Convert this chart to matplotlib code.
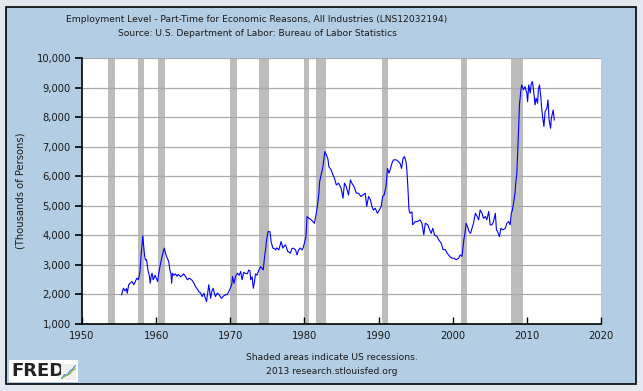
import matplotlib
matplotlib.use("Agg")
import matplotlib.pyplot as plt
from matplotlib.patches import Rectangle
from matplotlib.ticker import FuncFormatter

# monthly-ish readings of LNS12032194, thousands of persons
years = [
    1955.35, 1955.5, 1955.6, 1955.8, 1956.0, 1956.1, 1956.3, 1956.5, 1956.75, 1957.0,
    1957.2, 1957.4, 1957.6, 1957.8, 1958.0, 1958.2, 1958.3, 1958.45, 1958.55, 1958.7,
    1958.9, 1959.0, 1959.1, 1959.2, 1959.35, 1959.45, 1959.6, 1959.7, 1959.85, 1960.0,
    1960.2, 1960.35, 1960.6, 1960.8, 1960.95, 1961.1, 1961.25, 1961.4, 1961.55, 1961.7,
    1961.85, 1962.0, 1962.1, 1962.2, 1962.4, 1962.6, 1962.8, 1963.0, 1963.3, 1963.5,
    1963.7, 1964.0, 1964.2, 1964.5, 1964.85, 1965.1, 1965.3, 1965.5, 1965.75, 1966.0,
    1966.2, 1966.45, 1966.6, 1966.8, 1967.0, 1967.1, 1967.35, 1967.5, 1967.7, 1967.85,
    1968.0, 1968.25, 1968.5, 1968.8, 1969.1, 1969.4, 1969.6, 1969.8, 1970.0, 1970.2,
    1970.3, 1970.5, 1970.7, 1970.95, 1971.2, 1971.4, 1971.6, 1971.8, 1972.0, 1972.3,
    1972.5, 1972.65, 1972.75, 1972.95, 1973.1, 1973.25, 1973.4, 1973.6, 1973.85, 1974.1,
    1974.3, 1974.45, 1974.6, 1974.75, 1974.9, 1975.1, 1975.35, 1975.5, 1975.75, 1976.0,
    1976.1, 1976.3, 1976.55, 1976.85, 1977.1, 1977.3, 1977.45, 1977.75, 1978.1, 1978.3,
    1978.5, 1978.8, 1979.0, 1979.2, 1979.4, 1979.7, 1979.85, 1980.0, 1980.2, 1980.35,
    1980.6, 1980.9, 1981.15, 1981.35, 1981.6, 1981.8, 1981.95, 1982.05, 1982.25, 1982.5,
    1982.75, 1982.95, 1983.15, 1983.3, 1983.6, 1983.85, 1984.05, 1984.3, 1984.6, 1984.95,
    1985.2, 1985.4, 1985.65, 1985.95, 1986.2, 1986.4, 1986.7, 1987.0, 1987.3, 1987.6,
    1987.9, 1988.2, 1988.4, 1988.65, 1988.9, 1989.1, 1989.3, 1989.55, 1989.85, 1990.1,
    1990.35, 1990.55, 1990.75, 1991.0, 1991.2, 1991.4, 1991.55, 1991.8, 1992.0, 1992.4,
    1992.7, 1992.9, 1993.1, 1993.3, 1993.5, 1993.7, 1993.8, 1993.95, 1994.1, 1994.25,
    1994.5, 1994.6, 1994.95, 1995.25, 1995.6, 1995.85, 1996.1, 1996.3, 1996.65, 1996.9,
    1997.1, 1997.3, 1997.55, 1997.9, 1998.1, 1998.45, 1998.7, 1999.0, 1999.25, 1999.6,
    1999.9, 2000.1, 2000.5, 2000.8, 2001.0, 2001.25, 2001.5, 2001.65, 2001.8, 2002.0,
    2002.2, 2002.4, 2002.6, 2002.8, 2003.05, 2003.3, 2003.5, 2003.7, 2003.95, 2004.15,
    2004.4, 2004.6, 2004.85, 2005.05, 2005.3, 2005.5, 2005.75, 2005.9, 2006.05, 2006.3,
    2006.5, 2006.75, 2007.1, 2007.3, 2007.55, 2007.75, 2007.9, 2008.05, 2008.2, 2008.4,
    2008.5, 2008.65, 2008.8, 2008.9, 2009.0, 2009.2, 2009.3, 2009.55, 2009.75, 2010.0,
    2010.1, 2010.25, 2010.45, 2010.6, 2010.75, 2010.9, 2011.1, 2011.25, 2011.45, 2011.55,
    2011.7, 2011.9, 2012.0, 2012.15, 2012.3, 2012.45, 2012.7, 2012.85, 2013.0, 2013.2,
    2013.3, 2013.55, 2013.7,
]
values = [
    1990, 2150, 2210, 2120, 2200, 2040, 2330, 2380, 2440, 2330,
    2450, 2550, 2500, 2720, 3400, 3985, 3680, 3300, 3170, 3180,
    2830, 2720, 2600, 2380, 2650, 2720, 2500, 2550, 2650, 2560,
    2440, 2720, 3060, 3290, 3450, 3570, 3400, 3290, 3200, 3120,
    2830, 2700, 2380, 2720, 2650, 2700, 2620, 2680, 2600, 2640,
    2700, 2600, 2500, 2550, 2480, 2380, 2270, 2200, 2100, 2050,
    1930, 2040, 1900, 1760, 2150, 2330, 1870, 2100, 2210, 2050,
    1930, 2050, 1990, 1870, 1950, 1990, 2000, 2100, 2210, 2350,
    2610, 2380, 2600, 2720, 2650, 2780, 2500, 2750, 2720, 2700,
    2830, 2800, 2500, 2600, 2210, 2400, 2700, 2650, 2830, 2940,
    2880, 2830, 3230, 3500, 3850, 4130, 4130, 3790, 3570, 3550,
    3510, 3580, 3510, 3790, 3570, 3650, 3680, 3460, 3400, 3550,
    3570, 3510, 3340, 3500, 3570, 3510, 3600, 3740, 3960, 4640,
    4580, 4530, 4470, 4410, 4750, 5090, 5430, 5820, 6050, 6330,
    6840, 6730, 6610, 6330, 6220, 6050, 5940, 5710, 5770, 5600,
    5260, 5770, 5650, 5370, 5880, 5770, 5650, 5430, 5430, 5320,
    5370, 5430, 4980, 5320, 5210, 4980, 4860, 4920, 4750, 4860,
    4980, 5320, 5370, 5650, 6270, 6110, 6220, 6440, 6560, 6560,
    6500, 6440, 6270, 6610, 6670, 6500, 6270, 5650, 4860, 4750,
    4800, 4360, 4470, 4470, 4525, 4410, 4020, 4410, 4360, 4180,
    4070, 4240, 4020, 3960, 3850, 3740, 3520, 3520, 3400, 3290,
    3230, 3230, 3180, 3230, 3340, 3290, 3850, 4070, 4410, 4300,
    4130, 4070, 4240, 4410, 4750, 4640, 4530, 4860, 4750, 4580,
    4640, 4530, 4810, 4360, 4360, 4470, 4750, 4190, 4130, 3960,
    4240, 4190, 4240, 4410, 4470, 4360, 4750, 4860, 5090, 5430,
    5770, 6110, 7010, 7690, 8420, 8930, 9100, 8930, 9040, 8815,
    8530, 9100, 8820, 9150, 9210, 8930, 8420, 8650, 8480, 8930,
    9100, 8650, 8310, 7970, 7690, 8190, 8310, 8590, 7910, 7630,
    7970, 8250, 7910,
]

# NBER recessions (start, end) as decimal years
rec_start = [1953.55, 1957.6, 1960.3, 1969.9, 1973.85, 1980.0, 1981.5, 1990.5, 2001.15, 2007.9]
rec_end = [1954.4, 1958.3, 1961.15, 1970.9, 1975.2, 1980.55, 1982.9, 1991.25, 2001.9, 2009.5]

x_ticks = [1950, 1960, 1970, 1980, 1990, 2000, 2010, 2020]
y_ticks = [1000, 2000, 3000, 4000, 5000, 6000, 7000, 8000, 9000, 10000]

FS = 6.6
TXT = "#1a1a1a"
panel_blue = "#b3cde4"
fig = plt.figure(figsize=(6.43, 3.91), dpi=100, facecolor="#e1e8f0")
fig.patches.append(Rectangle((6 / 643, 7 / 391), 630 / 643, 377 / 391,
                             transform=fig.transFigure, facecolor=panel_blue,
                             edgecolor="black", linewidth=1.2, zorder=-10))

ax = fig.add_axes([82 / 643, 67 / 391, 519 / 643, 265.7 / 391])
ax.set_facecolor("white")

for s, e in zip(rec_start, rec_end):
    ax.axvspan(s, e, color="#bcbcbc", linewidth=0, zorder=1)

ax.plot(years, values, color="#0000ff", linewidth=0.8, zorder=3)

ax.set_xlim(1950, 2020)
ax.set_ylim(1000, 10000)
ax.set_xticks(x_ticks)
ax.set_yticks(y_ticks)
ax.yaxis.set_major_formatter(FuncFormatter(lambda v, p: f"{int(v):,}"))
ax.grid(axis="y", color="#aaaaaa", linewidth=0.9, zorder=2)
ax.set_axisbelow(False)

for side in ["top", "right"]:
    ax.spines[side].set_visible(False)
for side in ["left", "bottom"]:
    ax.spines[side].set_linewidth(1.2)
    ax.spines[side].set_zorder(4)

ax.tick_params(axis="y", direction="out", length=5, width=1.2, labelsize=FS + 0.6,
               pad=3, labelcolor=TXT)
ax.tick_params(axis="x", direction="in", length=5, width=1.0, labelsize=FS + 0.6,
               pad=5, labelcolor=TXT)
ax.set_ylabel("(Thousands of Persons)", fontsize=FS + 0.6, labelpad=8, color=TXT)

fig.text(257 / 643, 1 - 19 / 391,
         "Employment Level - Part-Time for Economic Reasons, All Industries (LNS12032194)",
         ha="center", va="center", fontsize=FS, color=TXT)
fig.text(257 / 643, 1 - 33 / 391,
         "Source: U.S. Department of Labor: Bureau of Labor Statistics",
         ha="center", va="center", fontsize=FS, color=TXT)
fig.text(332 / 643, 1 - 358 / 391, "Shaded areas indicate US recessions.",
         ha="center", va="center", fontsize=FS, color=TXT)
fig.text(332 / 643, 1 - 372 / 391, "2013 research.stlouisfed.org",
         ha="center", va="center", fontsize=FS, color=TXT)

# FRED logo
fig.patches.append(Rectangle((9 / 643, 1 - 382 / 391), 69 / 643, 22 / 391,
                             transform=fig.transFigure, facecolor="white",
                             edgecolor="none", zorder=-5))
fig.text(11 / 643, 1 - 371 / 391, "FRED", ha="left", va="center",
         fontsize=13, fontweight="bold", color="#222222")
icon = fig.add_axes([61 / 643, 1 - 380 / 391, 15 / 643, 16 / 391])
icon.set_zorder(5)
icon.set_facecolor("#eeeeee")
icon.plot([0, 1, 2, 3, 4, 5], [0, 1, 0.8, 2, 2.5, 3.5], color="#3a7bd5", linewidth=0.8)
icon.plot([0, 1, 2, 3, 4, 5], [0, 0.5, 0.9, 1.2, 2.2, 2.6], color="#7cb342", linewidth=0.8)
icon.set_xlim(-0.3, 5.3)
icon.set_ylim(-0.5, 4)
icon.set_xticks([])
icon.set_yticks([])
for s in icon.spines.values():
    s.set_visible(False)

fig.savefig("out.png", dpi=100, facecolor=fig.get_facecolor())
